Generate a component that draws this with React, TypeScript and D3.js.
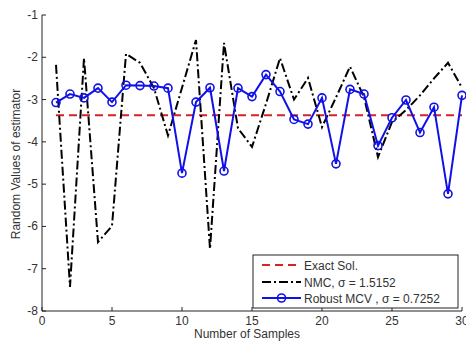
import React from "react";
import * as d3 from "d3";

const samples = d3.range(1, 31);
const exactValue = -3.37;
const nmcValues = [-2.18, -7.43, -2.02, -6.37, -5.99, -1.92, -2.13, -2.73, -3.85, -2.72,
  -1.59, -6.53, -1.66, -3.68, -4.12, -3.1, -2.02, -3.0, -2.49, -3.65,
  -2.95, -2.22, -2.94, -4.36, -3.53, -3.25, -2.9, -2.5, -2.13, -2.72];
const mcvValues = [-3.07, -2.87, -2.96, -2.73, -3.06, -2.66, -2.67, -2.68, -2.73, -4.74,
  -3.06, -2.72, -4.69, -2.73, -2.93, -2.41, -2.81, -3.47, -3.58, -2.96,
  -4.52, -2.76, -2.87, -4.09, -3.43, -3.01, -3.78, -3.18, -5.23, -2.9];
const xTicks = [0, 5, 10, 15, 20, 25, 30];
const yTicks = [-1, -2, -3, -4, -5, -6, -7, -8];
const legendLabels = ["Exact Sol.", "NMC, σ = 1.5152", "Robust MCV , σ = 0.7252"];

const BLUE = "#1010e8";
const RED = "#d42424";
const TXT = "#333";
const FONT = "Liberation Sans, Arial, sans-serif";

export default function App() {
  const W = 466, H = 341;
  const x = d3.scaleLinear().domain([0, 30]).range([42, 462]);
  const y = d3.scaleLinear().domain([-8, -1]).range([311, 15]);
  const line = d3.line<[number, number]>().x(d => x(d[0])).y(d => y(d[1]));
  const nmcPath = line(samples.map((s, i) => [s, nmcValues[i]]))!;
  const mcvPath = line(samples.map((s, i) => [s, mcvValues[i]]))!;
  const exactPath = line([[1, exactValue], [30, exactValue]])!;

  const lx = 253, ly = 255, lw = 205, lh = 53;
  const rowY = [265, 282, 298];
  return (
    <svg width={W} height={H} style={{ position: "absolute", left: 0, top: 0, background: "#fff" }}
      fontFamily={FONT}>
      <rect width={W} height={H} fill="#fff" />
      <path d={exactPath} fill="none" stroke={RED} strokeWidth={2} strokeDasharray="8,5" />
      <path d={nmcPath} fill="none" stroke="#000" strokeWidth={2} strokeDasharray="9,3,2,3" />
      <path d={mcvPath} fill="none" stroke={BLUE} strokeWidth={2} />
      {samples.map((s, i) => (
        <circle key={i} cx={x(s)} cy={y(mcvValues[i])} r={4} fill="none" stroke={BLUE} strokeWidth={1.6} />
      ))}
      {/* axes */}
      <line x1={x(0)} x2={x(30)} y1={y(-8)} y2={y(-8)} stroke="#222" strokeWidth={1} />
      <line x1={x(0)} x2={x(0)} y1={y(-8)} y2={y(-1)} stroke="#222" strokeWidth={1} />
      {xTicks.map(t => (
        <g key={t}>
          <line x1={x(t)} x2={x(t)} y1={y(-8)} y2={y(-8) - 4} stroke="#222" />
          <text x={x(t)} y={y(-8) + 14} fontSize={12} textAnchor="middle" fill={TXT}>{t}</text>
        </g>
      ))}
      {yTicks.map(t => (
        <g key={t}>
          <line x1={x(0)} x2={x(0) + 4} y1={y(t)} y2={y(t)} stroke="#222" />
          <text x={38} y={y(t) + 4} fontSize={12} textAnchor="end" fill={TXT}>{t}</text>
        </g>
      ))}
      <text x={247} y={338} fontSize={12} textAnchor="middle" fill={TXT}>Number of Samples</text>
      <text transform={`translate(19.5,${164}) rotate(-90)`} fontSize={12} textAnchor="middle" fill={TXT}>Random Values of estimator</text>
      {/* legend */}
      <rect x={lx} y={ly} width={lw} height={lh} fill="#fff" stroke="#222" strokeWidth={1} />
      <line x1={262} x2={301} y1={rowY[0]} y2={rowY[0]} stroke={RED} strokeWidth={2} strokeDasharray="8,5" />
      <line x1={262} x2={301} y1={rowY[1]} y2={rowY[1]} stroke="#000" strokeWidth={2} strokeDasharray="9,3,2,3" />
      <line x1={262} x2={301} y1={rowY[2]} y2={rowY[2]} stroke={BLUE} strokeWidth={2} />
      <circle cx={281.5} cy={rowY[2]} r={4} fill="none" stroke={BLUE} strokeWidth={1.6} />
      {legendLabels.map((l, i) => (
        <text key={i} x={304} y={rowY[i] + 4.5} fontSize={12} fill={TXT}>{l}</text>
      ))}
    </svg>
  );
}
